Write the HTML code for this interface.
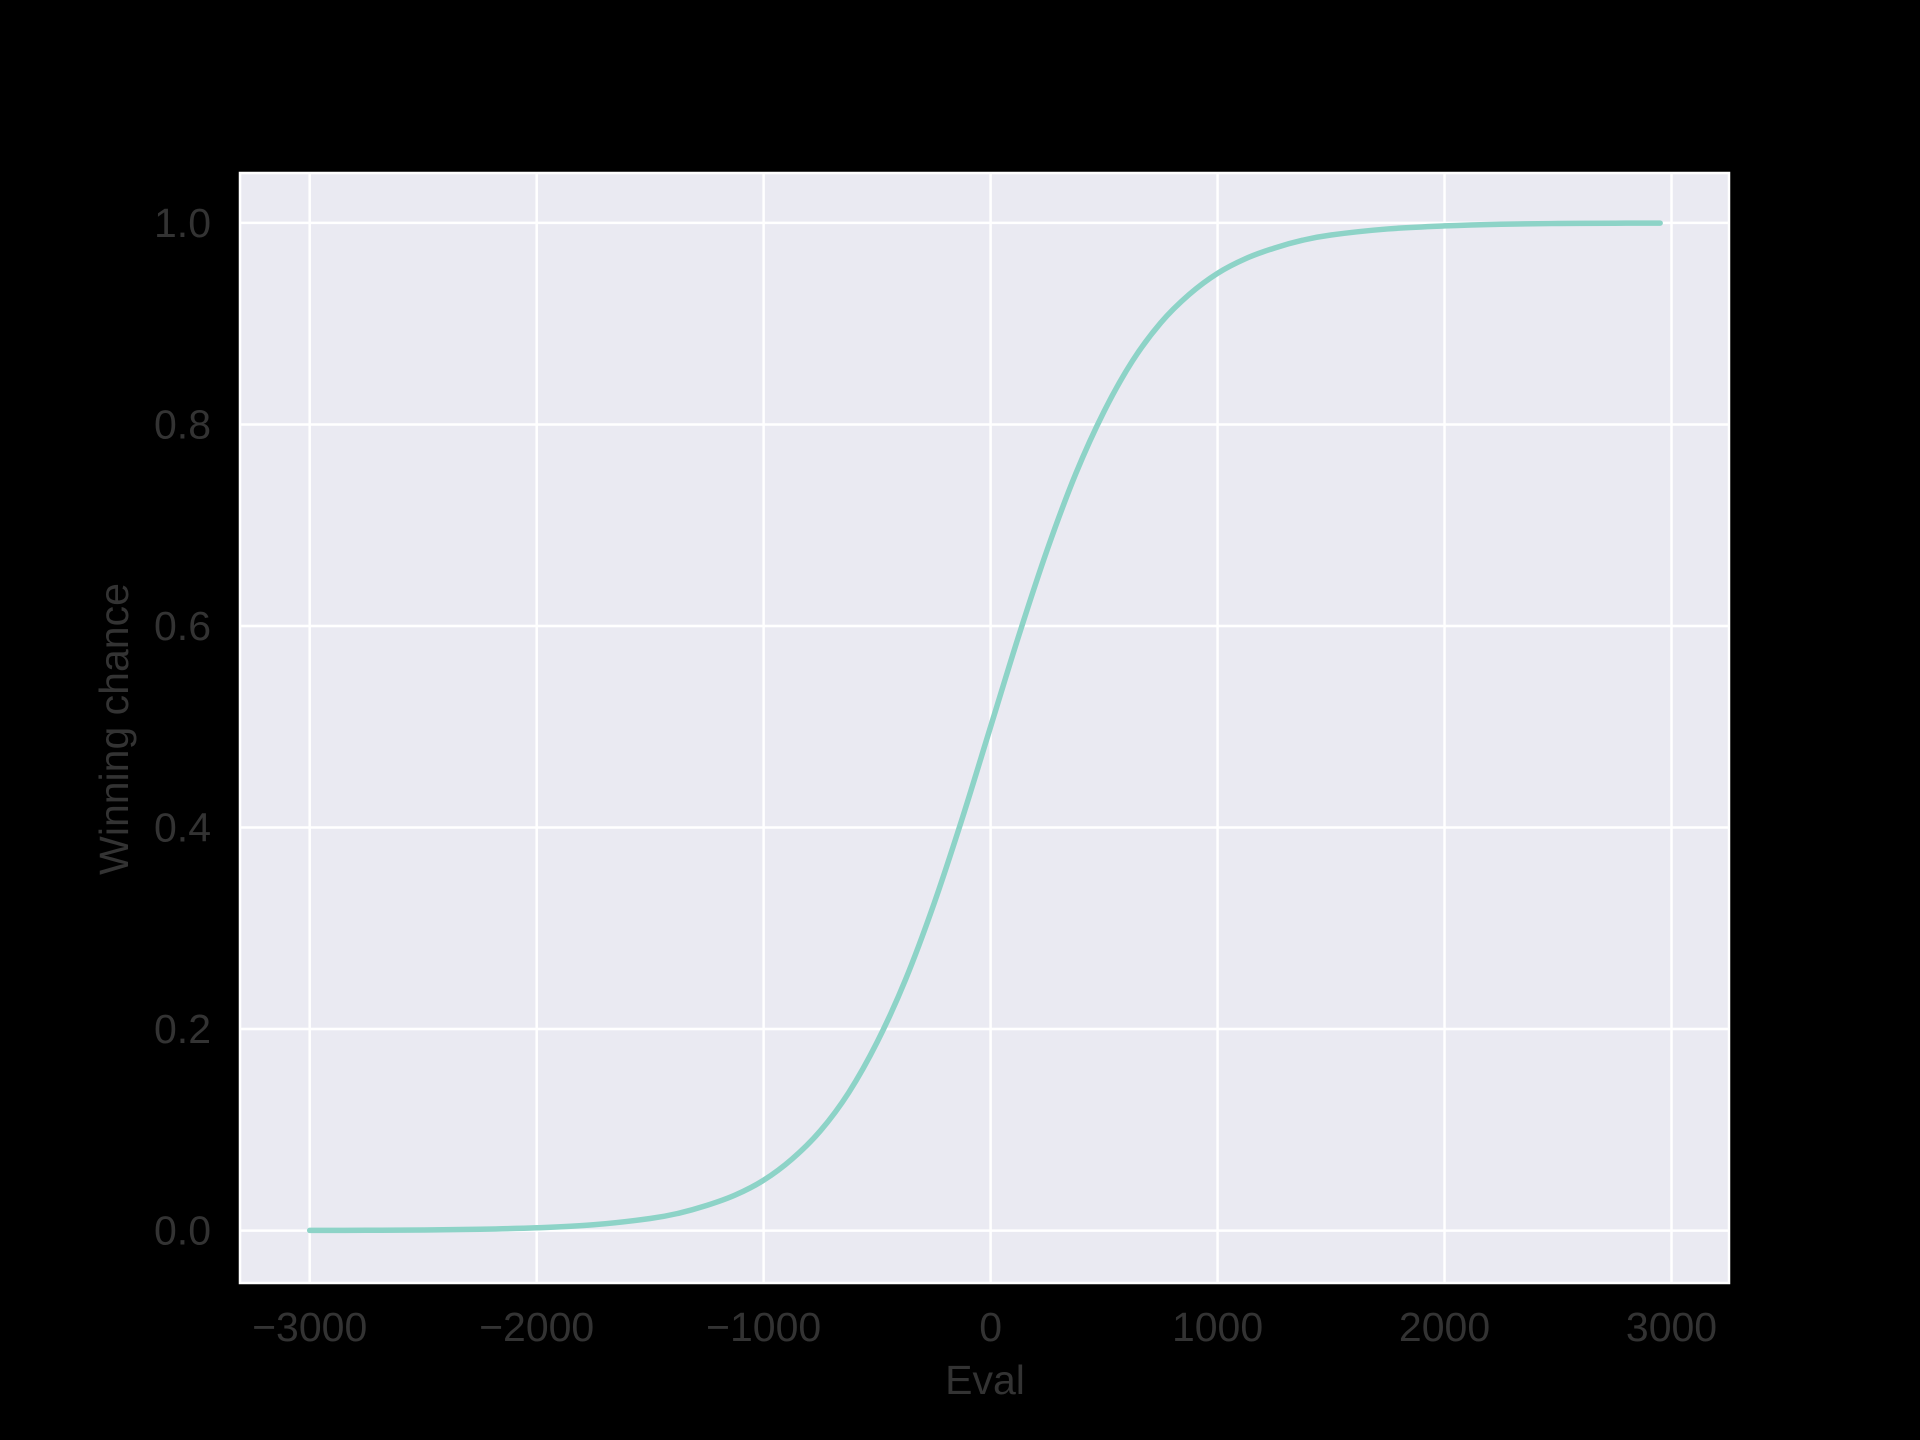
<!DOCTYPE html>
<html><head><meta charset="utf-8"><style>
html,body{margin:0;padding:0;background:#000;}
svg{display:block;}
text{font-family:"Liberation Sans",Arial,sans-serif;fill:#333;}
</style></head><body>
<svg id="chart" width="1920" height="1440" viewBox="0 0 1920 1440" xmlns="http://www.w3.org/2000/svg">
<rect width="1920" height="1440" fill="#000"/>
<rect x="240" y="173" width="1489" height="1110" fill="#eaeaf2" stroke="#fff" stroke-width="2.5"/>
<g id="grid"></g>
<g id="ticks"></g>
<path id="curve" fill="none" stroke="#8dd3c7" stroke-width="5.5" stroke-linejoin="round" stroke-linecap="round"/>
<text x="985" y="1394" font-size="41" text-anchor="middle">Eval</text>
<text x="0" y="0" font-size="41" text-anchor="middle" transform="translate(128,729) rotate(-90)">Winning chance</text>
</svg>
<script>
const xTicks = [-3000, -2000, -1000, 0, 1000, 2000, 3000];
const xTickLabels = ["\u22123000", "\u22122000", "\u22121000", "0", "1000", "2000", "3000"];
const yTicks = [0, 0.2, 0.4, 0.6, 0.8, 1.0];
const yTickLabels = ["0.0", "0.2", "0.4", "0.6", "0.8", "1.0"];
const evals = [-3000,-2750,-2500,-2250,-2000,-1750,-1500,-1375,-1250,-1125,-1000,-875,-750,-625,-500,-375,-250,-125,0,125,250,375,500,625,750,875,1000,1125,1250,1375,1500,1750,2000,2250,2500,2750,2950];
const chances = [0.0002,0.0003,0.0006,0.0013,0.0028,0.0058,0.012,0.0172,0.025,0.0353,0.05,0.071,0.099,0.137,0.187,0.249,0.324,0.409,0.5,0.591,0.676,0.751,0.813,0.863,0.901,0.929,0.95,0.9647,0.975,0.9828,0.988,0.994,0.997,0.9987,0.9994,0.9997,0.9998];

const X = v => 990.6 + v * (1671.5 - 990.6) / 3000;
const Y = v => 1230.6 - v * (1230.6 - 222.9);
const ns = "http://www.w3.org/2000/svg";
const grid = document.getElementById('grid');
const ticks = document.getElementById('ticks');
xTicks.forEach((t, i) => {
  const l = document.createElementNS(ns, 'line');
  l.setAttribute('x1', X(t)); l.setAttribute('x2', X(t));
  l.setAttribute('y1', 173); l.setAttribute('y2', 1283);
  l.setAttribute('stroke', '#fff'); l.setAttribute('stroke-width', '2.5');
  
  
  grid.appendChild(l);
  const tx = document.createElementNS(ns, 'text');
  tx.setAttribute('x', X(t)); tx.setAttribute('y', 1341);
  tx.setAttribute('font-size', '41'); tx.setAttribute('text-anchor', 'middle');
  tx.textContent = xTickLabels[i];
  
  
  ticks.appendChild(tx);
});
yTicks.forEach((t, i) => {
  const l = document.createElementNS(ns, 'line');
  l.setAttribute('x1', 240); l.setAttribute('x2', 1729);
  l.setAttribute('y1', Y(t)); l.setAttribute('y2', Y(t));
  l.setAttribute('stroke', '#fff'); l.setAttribute('stroke-width', '2.5');
  
  
  grid.appendChild(l);
  const tx = document.createElementNS(ns, 'text');
  tx.setAttribute('x', 211); tx.setAttribute('y', Y(t) + 14);
  tx.setAttribute('font-size', '41'); tx.setAttribute('text-anchor', 'end');
  tx.textContent = yTickLabels[i];
  
  
  ticks.appendChild(tx);
});
const pts = evals.map((e, i) => [X(e), Y(chances[i])]);
let d = 'M' + pts[0][0] + ',' + pts[0][1];
for (let i = 0; i < pts.length - 1; i++) {
  const p0 = pts[Math.max(0, i - 1)], p1 = pts[i], p2 = pts[i + 1], p3 = pts[Math.min(pts.length - 1, i + 2)];
  const c1x = p1[0] + (p2[0] - p0[0]) / 6, c1y = p1[1] + (p2[1] - p0[1]) / 6;
  const c2x = p2[0] - (p3[0] - p1[0]) / 6, c2y = p2[1] - (p3[1] - p1[1]) / 6;
  d += ' C' + c1x + ',' + c1y + ' ' + c2x + ',' + c2y + ' ' + p2[0] + ',' + p2[1];
}
document.getElementById('curve').setAttribute('d', d);
</script>
</body></html>
